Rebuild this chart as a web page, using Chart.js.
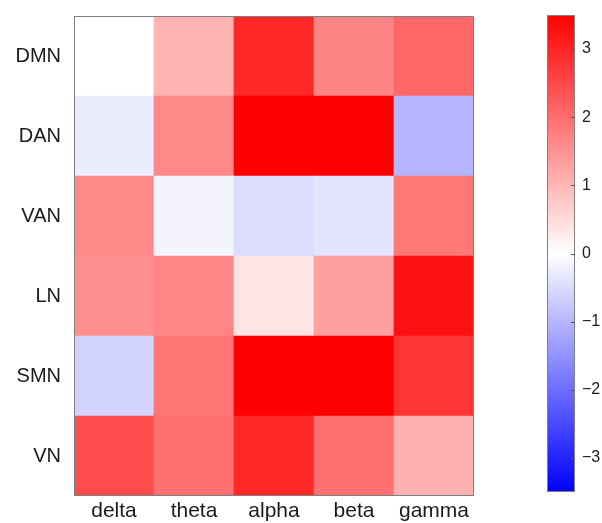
<!DOCTYPE html>
<html><head><meta charset="utf-8">
<script src="https://cdn.jsdelivr.net/npm/chart.js@4/dist/chart.umd.min.js"></script>
<style>
html,body{margin:0;padding:0;background:#fff;}
#main{position:absolute;left:0;top:0;width:475px;height:523px;}
#cbar{position:absolute;left:540px;top:0;width:62px;height:523px;}
</style></head><body>
<div id="main"><canvas id="c1"></canvas></div>
<div id="cbar"><canvas id="c2"></canvas></div>
<script>
// ---- data ----
const bands = ['delta', 'theta', 'alpha', 'beta', 'gamma'];
const networks = ['DMN', 'DAN', 'VAN', 'LN', 'SMN', 'VN'];
const DMN = [0.00, 1.04, 2.95, 1.67, 2.07];
const DAN = [-0.26, 1.63, 3.80, 3.80, -1.03];
const VAN = [1.63, -0.15, -0.48, -0.37, 1.85];
const LN  = [1.55, 1.66, 0.37, 1.30, 3.28];
const SMN = [-0.62, 1.89, 3.80, 3.80, 2.77];
const VN  = [2.44, 1.96, 2.95, 1.96, 1.08];
const colorTicks = [-3, -2, -1, 0, 1, 2, 3];
const cMin = -3.5, cMax = 3.5;

const rows = {DMN, DAN, VAN, LN, SMN, VN};

function colorOf(v) {
  const t = Math.max(-1, Math.min(1, v / cMax));
  if (t >= 0) {
    const g = Math.round(255 * (1 - t));
    return `rgb(255,${g},${g})`;
  } else {
    const r = Math.round(255 * (1 + t));
    return `rgb(${r},${r},255)`;
  }
}

const FONT = 'Liberation Sans, Arial, Helvetica, sans-serif';
const TXT = '#1a1a1a';

const frame = {
  id: 'frame',
  afterDatasetsDraw(chart) {
    const a = chart.chartArea, ctx = chart.ctx;
    ctx.save();
    ctx.strokeStyle = '#7f7f7f';
    ctx.lineWidth = 1;
    ctx.strokeRect(a.left + 0.5, a.top + 0.5, a.right - a.left - 1, a.bottom - a.top - 1);
    ctx.restore();
  }
};

// ---- heatmap ----
const datasets = networks.slice().reverse().map(name => ({
  label: name,
  data: bands.map(() => 1),
  backgroundColor: rows[name].map(colorOf),
  borderWidth: 0,
  barPercentage: 1,
  categoryPercentage: 1,
  stack: 's'
}));

new Chart(document.getElementById('c1'), {
  type: 'bar',
  data: {labels: bands, datasets},
  options: {
    responsive: true, maintainAspectRatio: false, animation: false,
    layout: {padding: {top: 16, right: 1, left: 0, bottom: 0}},
    plugins: {legend: {display: false}, tooltip: {enabled: false}},
    scales: {
      x: {
        stacked: true,
        grid: {display: false, drawTicks: false},
        border: {display: false},
        ticks: {color: TXT, font: {family: FONT, size: 21}, padding: 3, maxRotation: 0},
        afterFit(s) { s.height = 27; s.paddingLeft = 0; s.paddingRight = 0; }
      },
      y: {
        stacked: true, min: 0, max: 6,
        grid: {display: false, drawTicks: false},
        border: {display: false},
        afterBuildTicks(s) { s.ticks = networks.map((n, i) => ({value: 5.5 - i})); },
        ticks: {
          autoSkip: false, color: TXT, font: {family: FONT, size: 20}, padding: 13,
          callback: (v) => networks[Math.round(5.5 - v)]
        },
        afterFit(s) { s.width = 74; s.paddingTop = 0; s.paddingBottom = 0; }
      }
    }
  },
  plugins: [frame]
});

// ---- colorbar ----
const cbarTicks = {
  id: 'cbarTicks',
  afterDatasetsDraw(chart) {
    const a = chart.chartArea, ctx = chart.ctx, sc = chart.scales.y;
    ctx.save();
    ctx.strokeStyle = '#555';
    ctx.lineWidth = 1;
    colorTicks.forEach(v => {
      const y = Math.round(sc.getPixelForValue(v)) + 0.5;
      ctx.beginPath();
      ctx.moveTo(a.right - 4, y);
      ctx.lineTo(a.right, y);
      ctx.stroke();
    });
    ctx.restore();
  }
};

new Chart(document.getElementById('c2'), {
  type: 'bar',
  data: {
    labels: [''],
    datasets: [{
      data: [[cMin, cMax]],
      backgroundColor: (c) => {
        const area = c.chart.chartArea;
        if (!area) return '#fff';
        const g = c.chart.ctx.createLinearGradient(0, area.bottom, 0, area.top);
        g.addColorStop(0, colorOf(cMin));
        g.addColorStop(0.5, colorOf(0));
        g.addColorStop(1, colorOf(cMax));
        return g;
      },
      borderWidth: 0,
      barPercentage: 1,
      categoryPercentage: 1
    }]
  },
  options: {
    responsive: true, maintainAspectRatio: false, animation: false,
    layout: {padding: {top: 15, bottom: 31, left: 7, right: 0}},
    plugins: {legend: {display: false}, tooltip: {enabled: false}},
    scales: {
      x: {display: false},
      y: {
        position: 'right', min: cMin, max: cMax,
        grid: {display: false, drawTicks: false},
        border: {display: false},
        afterBuildTicks(s) { s.ticks = colorTicks.map(v => ({value: v})); },
        ticks: {
          autoSkip: false, color: TXT, font: {family: FONT, size: 16}, padding: 7,
          callback: (v) => v < 0 ? '\u2212' + Math.abs(v) : String(v)
        },
        afterFit(s) { s.width = 27; s.paddingTop = 0; s.paddingBottom = 0; }
      }
    }
  },
  plugins: [frame, cbarTicks]
});
</script>
</body></html>
